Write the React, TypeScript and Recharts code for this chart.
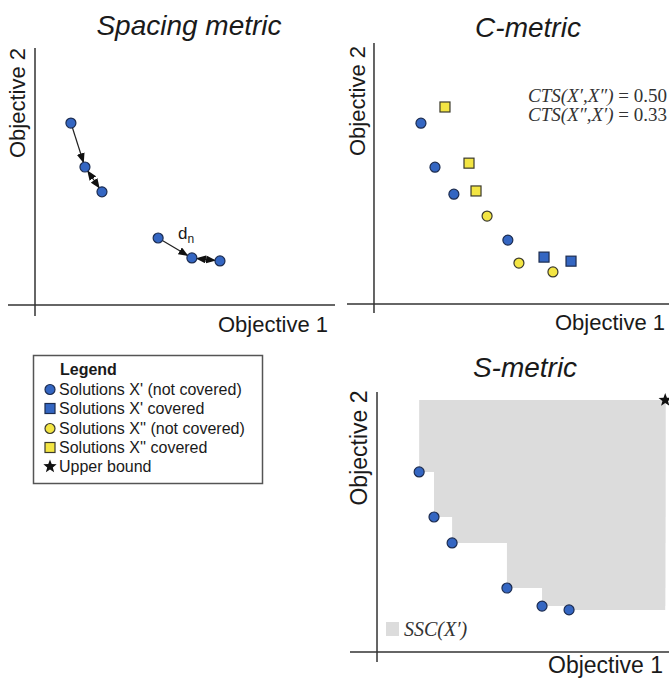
import React from "react";
import {
  ScatterChart,
  Scatter,
  XAxis,
  YAxis,
  ReferenceLine,
  ReferenceArea
} from "recharts";

// spacing metric front (objective 1 / objective 2)
const spacingX = [1.33, 1.85, 2.48, 4.56, 5.81, 6.85];
const spacingY = [6.74, 5.11, 4.19, 2.48, 1.74, 1.63];
// pairs of point indexes joined by a distance arrow, and whether it has a head at the start
const spacingLinks = [
  { from: 0, to: 1, both: false },
  { from: 1, to: 2, both: true },
  { from: 3, to: 4, both: false },
  { from: 4, to: 5, both: true }
];

// C-metric: two fronts X' (blue) and X'' (yellow)
const blueFreeX = [1.74, 2.26, 2.96, 4.96];
const blueFreeY = [6.7, 5.07, 4.07, 2.37];
const blueCoveredX = [6.3, 7.3];
const blueCoveredY = [1.74, 1.59];
const yellowFreeX = [4.19, 5.37, 6.63];
const yellowFreeY = [3.26, 1.52, 1.19];
const yellowCoveredX = [2.63, 3.52, 3.78];
const yellowCoveredY = [7.3, 5.22, 4.19];

// S-metric front and upper bound
const sFrontX = [1.56, 2.11, 2.78, 4.81, 6.11, 7.11];
const sFrontY = [6.67, 5.0, 4.04, 2.37, 1.7, 1.56];
const upperX = [10.67];
const upperY = [9.33];

const legendLabels = [
  "Solutions X' (not covered)",
  "Solutions X' covered",
  "Solutions X'' (not covered)",
  "Solutions X'' covered",
  "Upper bound"
];

const BLUE = "#3466c2";
const BLUE_EDGE = "#1c2c50";
const YELLOW = "#f3e543";
const YELLOW_EDGE = "#3b3a2c";
const AXIS = "#333";
const SANS = "'Liberation Sans', Arial, sans-serif";
const SERIF = "'Liberation Serif', 'Times New Roman', serif";

const pts = (xs: number[], ys: number[]) => xs.map((x, i) => ({ x, y: ys[i] }));

const circle = (fill: string, stroke: string) => (p: any) => (
  <circle cx={p.cx} cy={p.cy} r={5} fill={fill} stroke={stroke} strokeWidth={1.2} />
);
const square = (fill: string, stroke: string) => (p: any) => (
  <rect x={p.cx - 5} y={p.cy - 5} width={10} height={10} fill={fill} stroke={stroke} strokeWidth={1.2} />
);
const starPath = (cx: number, cy: number, r: number) => {
  let d = "";
  for (let i = 0; i < 10; i++) {
    const a = -Math.PI / 2 + (i * Math.PI) / 5;
    const rr = i % 2 === 0 ? r : r * 0.42;
    d += (i === 0 ? "M" : "L") + (cx + rr * Math.cos(a)).toFixed(2) + "," + (cy + rr * Math.sin(a)).toFixed(2);
  }
  return d + "Z";
};
const star = (p: any) => <path d={starPath(p.cx, p.cy, 7)} fill="#111" />;

type PanelProps = {
  left: number;
  top: number;
  width: number;
  height: number;
  xDomain: [number, number];
  yDomain: [number, number];
  children: React.ReactNode;
};

function Panel({ left, top, width, height, xDomain, yDomain, children }: PanelProps) {
  return (
    <div style={{ position: "absolute", left, top }}>
      <ScatterChart width={width} height={height} margin={{ top: 0, right: 0, bottom: 0, left: 0 }}>
        <XAxis type="number" dataKey="x" domain={xDomain} hide />
        <YAxis type="number" dataKey="y" domain={yDomain} hide />
        {children}
        <ReferenceLine x={0} stroke={AXIS} strokeWidth={1.5} />
        <ReferenceLine y={0} stroke={AXIS} strokeWidth={1.5} />
      </ScatterChart>
    </div>
  );
}

export default function App() {
  const spacing = pts(spacingX, spacingY);
  const sFront = pts(sFrontX, sFrontY);
  const ub = pts(upperX, upperY);

  return (
    <div style={{ position: "absolute", left: 0, top: 0, width: 669, height: 679, overflow: "hidden", background: "#fff" }}>
      <svg width={0} height={0} style={{ position: "absolute" }}>
        <defs>
          <marker id="arrowHead" viewBox="0 0 10 8" refX={14} refY={4} markerWidth={10} markerHeight={8}
            markerUnits="userSpaceOnUse" orient="auto-start-reverse">
            <path d="M0,0 L10,4 L0,8 z" fill="#111" />
          </marker>
        </defs>
      </svg>

      {/* Spacing metric */}
      <Panel left={8} top={48} width={327} height={268} xDomain={[-1, 11.11]} yDomain={[-0.41, 9.52]}>
        {spacingLinks.map((l, i) => (
          <ReferenceLine
            key={i}
            segment={[spacing[l.from], spacing[l.to]]}
            stroke="#222"
            shape={(p: any) => (
              <line x1={p.x1} y1={p.y1} x2={p.x2} y2={p.y2} stroke="#222" strokeWidth={1.2}
                markerEnd="url(#arrowHead)" markerStart={l.both ? "url(#arrowHead)" : undefined} />
            )}
          />
        ))}
        <Scatter data={spacing} shape={circle(BLUE, BLUE_EDGE)} isAnimationActive={false} />
      </Panel>

      {/* C-metric */}
      <Panel left={347} top={43} width={322} height={270} xDomain={[-1, 10.93]} yDomain={[-0.33, 9.67]}>
        <Scatter data={pts(yellowCoveredX, yellowCoveredY)} shape={square(YELLOW, YELLOW_EDGE)} isAnimationActive={false} />
        <Scatter data={pts(blueFreeX, blueFreeY)} shape={circle(BLUE, BLUE_EDGE)} isAnimationActive={false} />
        <Scatter data={pts(yellowFreeX, yellowFreeY)} shape={circle(YELLOW, YELLOW_EDGE)} isAnimationActive={false} />
        <Scatter data={pts(blueCoveredX, blueCoveredY)} shape={square(BLUE, BLUE_EDGE)} isAnimationActive={false} />
      </Panel>

      {/* S-metric */}
      <Panel left={350} top={392} width={319} height={270} xDomain={[-1, 10.81]} yDomain={[-0.37, 9.63]}>
        {sFront.map((p, i) => (
          <ReferenceArea key={i} x1={p.x} x2={ub[0].x} y1={p.y} y2={ub[0].y}
            fill="#dcdcdc" fillOpacity={1} stroke="none" />
        ))}
        <Scatter data={sFront} shape={circle(BLUE, BLUE_EDGE)} isAnimationActive={false} />
        <Scatter data={ub} shape={star} isAnimationActive={false} />
      </Panel>

      {/* titles, axis names, notes and legend */}
      <svg width={669} height={679} style={{ position: "absolute", left: 0, top: 0, pointerEvents: "none" }}
        fontFamily={SANS} fill="#1a1a1a">
        <text x={189} y={35} fontSize={28} fontStyle="italic" textAnchor="middle">Spacing metric</text>
        <text x={528} y={37} fontSize={28} fontStyle="italic" textAnchor="middle">C-metric</text>
        <text x={525} y={377} fontSize={28} fontStyle="italic" textAnchor="middle">S-metric</text>

        <text transform="translate(25,103) rotate(-90)" fontSize={22} textAnchor="middle">Objective 2</text>
        <text transform="translate(365,101) rotate(-90)" fontSize={22} textAnchor="middle">Objective 2</text>
        <text transform="translate(367,448) rotate(-90)" fontSize={23} textAnchor="middle">Objective 2</text>
        <text x={328} y={332} fontSize={22} textAnchor="end">Objective 1</text>
        <text x={665} y={330} fontSize={22} textAnchor="end">Objective 1</text>
        <text x={548} y={673} fontSize={23}>Objective 1</text>

        <text x={178} y={239} fontSize={17}>d<tspan fontSize={12} dy={4}>n</tspan></text>

        <g fontFamily={SERIF} fill="#333">
          <text x={667} y={102} fontSize={19} textAnchor="end">
            <tspan fontStyle="italic">CTS(X′,X″)</tspan> = 0.50
          </text>
          <text x={667} y={121} fontSize={19} textAnchor="end">
            <tspan fontStyle="italic">CTS(X″,X′)</tspan> = 0.33
          </text>
          <rect x={386} y={622} width={13} height={14} fill="#dcdcdc" />
          <text x={404} y={636} fontSize={20} fontStyle="italic">SSC(X′)</text>
        </g>

        <rect x={33.5} y={355.5} width={229} height={128} fill="#fff" stroke="#555" strokeWidth={1.5} />
        <text x={60} y={375} fontSize={16} fontWeight="bold">Legend</text>
        {legendLabels.map((lab, i) => {
          const by = [395, 414, 434, 453, 472][i];
          const cy = by - 5.5;
          const mark =
            i === 0 ? circle(BLUE, BLUE_EDGE)({ cx: 50, cy }) :
            i === 1 ? square(BLUE, BLUE_EDGE)({ cx: 50, cy }) :
            i === 2 ? circle(YELLOW, YELLOW_EDGE)({ cx: 50, cy }) :
            i === 3 ? square(YELLOW, YELLOW_EDGE)({ cx: 50, cy }) :
            star({ cx: 50, cy });
          return (
            <g key={lab}>
              {mark}
              <text x={59} y={by} fontSize={16}>{lab}</text>
            </g>
          );
        })}
      </svg>
    </div>
  );
}
